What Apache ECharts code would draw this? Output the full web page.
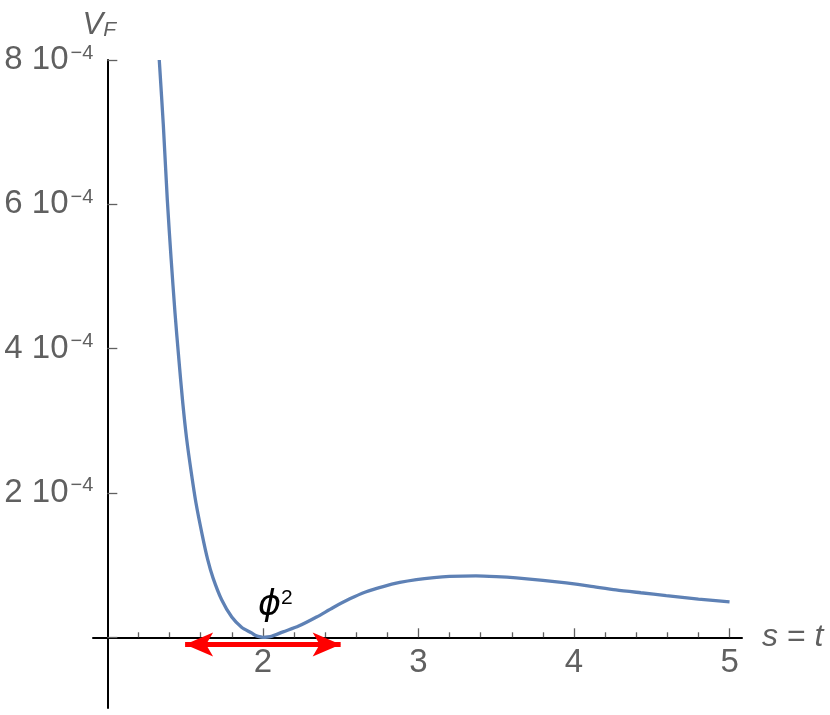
<!DOCTYPE html>
<html>
<head>
<meta charset="utf-8">
<script src="https://cdn.jsdelivr.net/npm/echarts@6/dist/echarts.min.js"></script>
<style>
  html, body { margin: 0; padding: 0; background: #fff; }
  #chart { width: 830px; height: 715px; }
</style>
</head>
<body>
<div id="chart"></div>
<script>
// curve V_F(s), values in units of 1e-4
const sVals = [1.334, 1.36, 1.386, 1.41, 1.435, 1.46, 1.485, 1.51, 1.54, 1.57, 1.61, 1.645, 1.68, 1.735, 1.80, 1.863, 1.927, 1.95, 1.97, 2.0,
  2.03, 2.06, 2.13, 2.23, 2.345, 2.45, 2.559, 2.66, 2.773, 2.88, 2.987, 3.1, 3.2, 3.37, 3.5, 3.629, 3.8, 3.95, 4.1, 4.27, 4.43, 4.593, 4.8, 5.0];
const vVals = [8.0, 7.1, 6.05, 5.25, 4.5, 3.85, 3.25, 2.75, 2.28, 1.86, 1.42, 1.08, 0.82, 0.52, 0.28, 0.14, 0.06, 0.028, 0.012, 0.0,
  0.004, 0.016, 0.075, 0.155, 0.28, 0.41, 0.533, 0.628, 0.703, 0.76, 0.80, 0.828, 0.843, 0.85, 0.84, 0.823, 0.79, 0.754, 0.71, 0.657, 0.617, 0.578, 0.53, 0.49];

const xMajorTicks = [2, 3, 4, 5];
const xMinorTicks = [1.2, 1.4, 1.6, 1.8, 2.2, 2.4, 2.6, 2.8, 3.2, 3.4, 3.6, 3.8, 4.2, 4.4, 4.6, 4.8];
const yTicks = [0, 2, 4, 6, 8];
const yLabels = [2, 4, 6, 8];
const yExponent = '−4';

const arrowSpan = [1.5, 2.5];
const arrowLevel = -0.1;
const phiLabelAt = [2.08, 0.44];

const xRange = [0.908, 5.08];
const yRange = [-0.98, 8];
const yAxisAt = 1;

const gray = '#606060';
const font = 'Liberation Sans';

const chart = echarts.init(document.getElementById('chart'));

const option = {
  backgroundColor: '#fff',
  animation: false,
  grid: { left: 93, right: 88, top: 60, bottom: 7, outerBoundsMode: 'none', containLabel: false },
  xAxis: [{
    type: 'value',
    min: xRange[0],
    max: xRange[1],
    splitLine: { show: false },
    axisLine: { onZero: true, onZeroAxisIndex: 0, lineStyle: { color: '#000', width: 2 } },
    axisTick: { inside: true, length: 9, customValues: xMajorTicks, lineStyle: { color: gray, width: 1.3 } },
    axisLabel: { show: false },
    name: '{i|s}{r| = }{i|t}',
    nameLocation: 'end',
    nameGap: 20,
    nameTextStyle: {
      rich: {
        i: { fontFamily: font, fontSize: 32, fontStyle: 'italic', color: gray },
        r: { fontFamily: font, fontSize: 32, color: gray }
      }
    }
  }, {
    type: 'value',
    min: xRange[0],
    max: xRange[1],
    position: 'bottom',
    splitLine: { show: false },
    axisLine: { show: false, onZero: true, onZeroAxisIndex: 0 },
    axisTick: { inside: true, length: 5, customValues: xMinorTicks, lineStyle: { color: gray, width: 1.3 } },
    axisLabel: { show: false }
  }],
  yAxis: {
    type: 'value',
    min: yRange[0],
    max: yRange[1],
    splitLine: { show: false },
    axisLine: { lineStyle: { color: '#000', width: 2 } },
    axisTick: { inside: true, length: 10, customValues: yTicks, lineStyle: { color: gray, width: 1.3 } },
    axisLabel: {
      customValues: yLabels,
      margin: 14,
      formatter: v => '{n|' + v + ' 10}{s|' + yExponent + '}',
      rich: {
        n: { fontFamily: font, fontSize: 33, lineHeight: 34, color: gray },
        s: { fontFamily: font, fontSize: 20, lineHeight: 20, verticalAlign: 'top', padding: [0, 0, 0, 2], color: gray }
      }
    },
    name: '{v|V}{f|F}',
    nameLocation: 'end',
    nameGap: 19,
    nameTextStyle: {
      padding: [0, 16, 0, 0],
      rich: {
        v: { fontFamily: font, fontSize: 31, fontStyle: 'italic', lineHeight: 32, color: gray },
        f: { fontFamily: font, fontSize: 21, fontStyle: 'italic', lineHeight: 14, verticalAlign: 'bottom', color: gray }
      }
    }
  },
  series: [{
    type: 'line',
    data: sVals.map((s, i) => [s, vVals[i]]),
    showSymbol: false,
    smooth: 0.25,
    lineStyle: { color: '#5e81b5', width: 3.3 },
    itemStyle: { color: '#5e81b5' },
    markLine: {
      silent: true,
      symbol: ['arrow', 'arrow'],
      symbolSize: [18, 28],
      label: { show: false },
      lineStyle: { color: '#ff0000', width: 5, type: 'solid' },
      itemStyle: { color: '#ff0000' },
      data: [[{ coord: [arrowSpan[0], arrowLevel] }, { coord: [arrowSpan[1], arrowLevel] }]]
    }
  }, {
    // x tick labels, placed under the zero line
    type: 'scatter',
    data: xMajorTicks.map(s => [s, 0]),
    symbolSize: 0,
    silent: true,
    itemStyle: { opacity: 1 },
    label: {
      show: true,
      position: 'bottom',
      distance: 9,
      formatter: p => String(p.value[0]),
      fontFamily: font,
      fontSize: 33,
      color: gray
    }
  }, {
    type: 'scatter',
    data: [phiLabelAt],
    symbolSize: 0,
    silent: true,
    itemStyle: { opacity: 1 },
    label: {
      show: true,
      position: 'inside',
      formatter: '{p|ϕ}{q|2}',
      rich: {
        p: { fontFamily: 'DejaVu Sans', fontSize: 35, fontStyle: 'italic', lineHeight: 36, color: '#000' },
        q: { fontFamily: font, fontSize: 21, lineHeight: 20, verticalAlign: 'top', color: '#000' }
      }
    }
  }]
};

chart.setOption(option);

// put the vertical axis at s = 1
const axisPx = chart.convertToPixel({ xAxisIndex: 0 }, yAxisAt);
chart.setOption({ yAxis: { offset: -(axisPx - option.grid.left) } });
</script>
</body>
</html>
